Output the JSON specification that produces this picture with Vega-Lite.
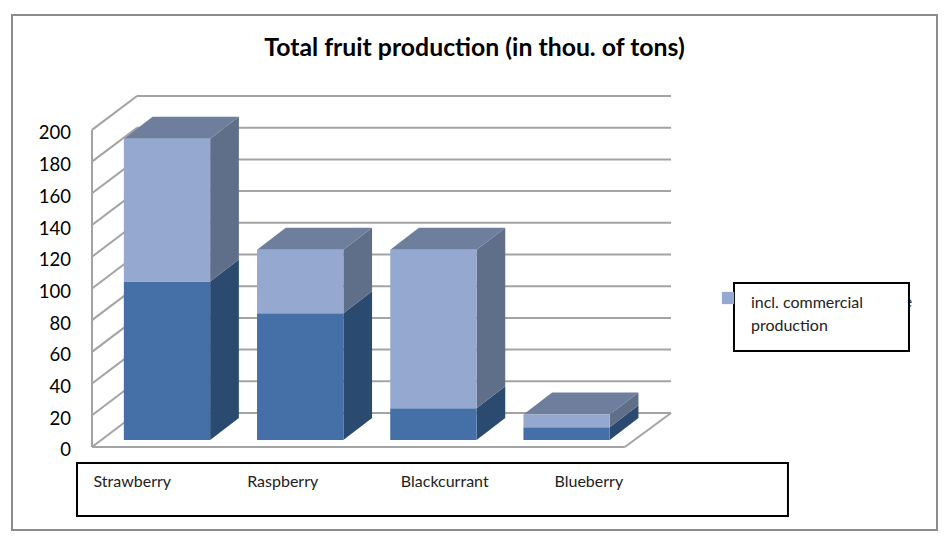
{
"$schema":"https://vega.github.io/schema/vega-lite/v6.json",
"width":925,"height":515,"autosize":"none",
"padding":{"left":12,"top":15,"right":10,"bottom":18},
"background":"white",
"config":{"view":{"stroke":"#8c8c8c","strokeWidth":2,"fill":"white"},"font":"Lato"},
"title":{"text":"Total fruit production (in thou. of tons)","anchor":"middle","offset":-46,"fontSize":24.8,"font":"Lato","fontWeight":"bold","color":"#000000"},
"datasets":{
"bars":[
{"fruit":"Strawberry","idx":0,"segment":"other production","start":0,"end":100},
{"fruit":"Strawberry","idx":0,"segment":"incl. commercial production","start":100,"end":190},
{"fruit":"Raspberry","idx":1,"segment":"other production","start":0,"end":80},
{"fruit":"Raspberry","idx":1,"segment":"incl. commercial production","start":80,"end":120},
{"fruit":"Blackcurrant","idx":2,"segment":"other production","start":0,"end":20},
{"fruit":"Blackcurrant","idx":2,"segment":"incl. commercial production","start":20,"end":120},
{"fruit":"Blueberry","idx":3,"segment":"other production","start":0,"end":8},
{"fruit":"Blueberry","idx":3,"segment":"incl. commercial production","start":8,"end":16}
],
"ticks":[{"tick":0},{"tick":20},{"tick":40},{"tick":60},{"tick":80},{"tick":100},{"tick":120},{"tick":140},{"tick":160},{"tick":180},{"tick":200}]
},
"layer":[
{"layer":[
{"data":{"name":"ticks"},
 "transform":[{"calculate":"datum.tick+17","as":"back"}],
 "mark":{"type":"rule","color":"#a3a3a3","strokeWidth":2},
 "encoding":{
  "x":{"datum":-0.2252,"type":"quantitative","scale":{"domain":[-1.1637,5.781],"nice":false,"zero":false},"axis":null},
  "x2":{"datum":3.784},
  "y":{"field":"back","type":"quantitative","scale":{"domain":[-56.8,268.1],"nice":false,"zero":false},
   "axis":{"values":[0,20,40,60,80,100,120,140,160,180,200],"title":null,"domain":false,"ticks":false,"grid":false,"labelPadding":0,"offset":-58.5,"labelOffset":10,"labelFontSize":18.5,"labelFont":"Lato","labelColor":"#000000"}}
 }},
{"data":{"name":"ticks"},
 "transform":[{"calculate":"datum.tick+17","as":"back"},{"calculate":"datum.tick-4.4","as":"front"}],
 "mark":{"type":"rule","color":"#a3a3a3","strokeWidth":2},
 "encoding":{
  "x":{"datum":-0.563,"type":"quantitative","scale":{"domain":[-1.1637,5.781],"nice":false,"zero":false},"axis":null},
  "x2":{"datum":-0.2252},
  "y":{"field":"front","type":"quantitative","scale":{"domain":[-56.8,268.1],"nice":false,"zero":false}},
  "y2":{"field":"back"}
 }},
{"mark":{"type":"rule","color":"#a3a3a3","strokeWidth":2},"data":{"values":[{"a":1}]},
 "encoding":{
  "x":{"datum":-0.563,"type":"quantitative","scale":{"domain":[-1.1637,5.781],"nice":false,"zero":false},"axis":null},
  "y":{"datum":-4.4,"type":"quantitative","scale":{"domain":[-56.8,268.1],"nice":false,"zero":false}},
  "y2":{"datum":195.6}
 }},
{"mark":{"type":"rule","color":"#a3a3a3","strokeWidth":2},"data":{"values":[{"a":1}]},
 "encoding":{
  "x":{"datum":-0.563,"type":"quantitative","scale":{"domain":[-1.1637,5.781],"nice":false,"zero":false},"axis":null},
  "x2":{"datum":3.4375},
  "y":{"datum":-4.4,"type":"quantitative","scale":{"domain":[-56.8,268.1],"nice":false,"zero":false}}
 }},
{"mark":{"type":"rule","color":"#a3a3a3","strokeWidth":2},"data":{"values":[{"a":1}]},
 "encoding":{
  "x":{"datum":3.4375,"type":"quantitative","scale":{"domain":[-1.1637,5.781],"nice":false,"zero":false},"axis":null},
  "x2":{"datum":3.784},
  "y":{"datum":-4.4,"type":"quantitative","scale":{"domain":[-56.8,268.1],"nice":false,"zero":false}},
  "y2":{"datum":17}
 }},
{"data":{"name":"bars"},
 "transform":[
  {"calculate":"[datum.idx+0.324,datum.idx+0.5395]","as":"sx"},
  {"calculate":"[datum.end,datum.end+13.88]","as":"upper"},
  {"calculate":"[datum.start,datum.start+13.88]","as":"lower"},
  {"flatten":["sx","upper","lower"]}],
 "mark":{"type":"area","line":false,"opacity":1},
 "encoding":{
  "x":{"field":"sx","type":"quantitative","scale":{"domain":[-1.1637,5.781],"nice":false,"zero":false},"axis":null},
  "y":{"field":"upper","type":"quantitative","scale":{"domain":[-56.8,268.1],"nice":false,"zero":false}},
  "y2":{"field":"lower"},
  "detail":{"field":"fruit"},
  "fill":{"field":"segment","type":"nominal","scale":{"domain":["other production","incl. commercial production"],"range":["#2b4a70","#5f6e89"]},"legend":null}
 }},
{"data":{"name":"bars"},
 "transform":[
  {"filter":"datum.segment==='incl. commercial production'"},
  {"calculate":"[datum.idx-0.324,datum.idx-0.1085,datum.idx+0.324,datum.idx+0.5395]","as":"tx"},
  {"calculate":"[datum.end,datum.end+13.88,datum.end+13.88,datum.end+13.88]","as":"upper"},
  {"calculate":"[datum.end,datum.end,datum.end,datum.end+13.88]","as":"lower"},
  {"flatten":["tx","upper","lower"]}],
 "mark":{"type":"area","line":false,"color":"#6e7f9d","opacity":1},
 "encoding":{
  "x":{"field":"tx","type":"quantitative","scale":{"domain":[-1.1637,5.781],"nice":false,"zero":false},"axis":null},
  "y":{"field":"upper","type":"quantitative","scale":{"domain":[-56.8,268.1],"nice":false,"zero":false}},
  "y2":{"field":"lower"},
  "detail":{"field":"fruit"}
 }},
{"data":{"name":"bars"},
 "transform":[{"calculate":"datum.idx-0.324","as":"left"},{"calculate":"datum.idx+0.324","as":"right"}],
 "mark":{"type":"rect"},
 "encoding":{
  "x":{"field":"left","type":"quantitative","scale":{"domain":[-1.1637,5.781],"nice":false,"zero":false},"axis":null},
  "x2":{"field":"right"},
  "y":{"field":"end","type":"quantitative","scale":{"domain":[-56.8,268.1],"nice":false,"zero":false}},
  "y2":{"field":"start"},
  "color":{"field":"segment","type":"nominal","scale":{"domain":["incl. commercial production","other production"],"range":["#95a9d0","#4470a7"]},
   "legend":{"orient":"none","legendX":708,"legendY":275,"title":null,"values":["incl. commercial production"],"symbolType":"square","symbolSize":150,"symbolOpacity":1,"labelFontSize":16,"labelFont":"Lato","labelExpr":"''","labelLimit":0,"labelOffset":5}}
 }},
{"mark":{"type":"rect","fill":"white","stroke":"#000000","strokeWidth":2},"data":{"values":[{"a":1}]},
 "encoding":{
  "x":{"datum":-0.6757,"type":"quantitative","scale":{"domain":[-1.1637,5.781],"nice":false,"zero":false},"axis":null},
  "x2":{"datum":4.662},
  "y":{"datum":-14.5,"type":"quantitative","scale":{"domain":[-56.8,268.1],"nice":false,"zero":false}},
  "y2":{"datum":-47.95}
 }},
{"mark":{"type":"text","align":"right","baseline":"middle","font":"Lato","fontSize":16,"color":"#1f3864","text":"e"},"data":{"values":[{"a":1}]},
 "encoding":{
  "x":{"datum":5.594,"type":"quantitative","scale":{"domain":[-1.1637,5.781],"nice":false,"zero":false},"axis":null},
  "y":{"datum":87,"type":"quantitative","scale":{"domain":[-56.8,268.1],"nice":false,"zero":false}}
 }},
{"mark":{"type":"rect","fill":"white","stroke":"#000000","strokeWidth":2},"data":{"values":[{"a":1}]},
 "encoding":{
  "x":{"datum":4.2568,"type":"quantitative","scale":{"domain":[-1.1637,5.781],"nice":false,"zero":false},"axis":null},
  "x2":{"datum":5.5706},
  "y":{"datum":99.05,"type":"quantitative","scale":{"domain":[-56.8,268.1],"nice":false,"zero":false}},
  "y2":{"datum":56.15}
 }},
{"mark":{"type":"text","align":"left","baseline":"middle","font":"Lato","fontSize":16,"color":"#222222","lineHeight":23,"text":["incl. commercial","production"]},"data":{"values":[{"a":1}]},
 "encoding":{
  "x":{"datum":4.384,"type":"quantitative","scale":{"domain":[-1.1637,5.781],"nice":false,"zero":false},"axis":null},
  "y":{"datum":86.4,"type":"quantitative","scale":{"domain":[-56.8,268.1],"nice":false,"zero":false}}
 }}
]},
{"data":{"name":"bars"},
 "transform":[{"filter":"datum.segment==='other production'"}],
 "mark":{"type":"point","opacity":0},
 "encoding":{
  "x":{"field":"fruit","type":"nominal","sort":null,"scale":{"type":"point","domain":["Strawberry","Raspberry","Blackcurrant","Blueberry"],"range":[81,542],"padding":0},
   "axis":{"title":null,"orient":"bottom","domain":false,"ticks":false,"grid":false,"labelAlign":"left","labelAngle":0,"labelFontSize":16,"labelFont":"Lato","labelColor":"#222222","labelPadding":0,"offset":-57,"zindex":1}}
 }}
],
"resolve":{"scale":{"x":"independent"}}
}
